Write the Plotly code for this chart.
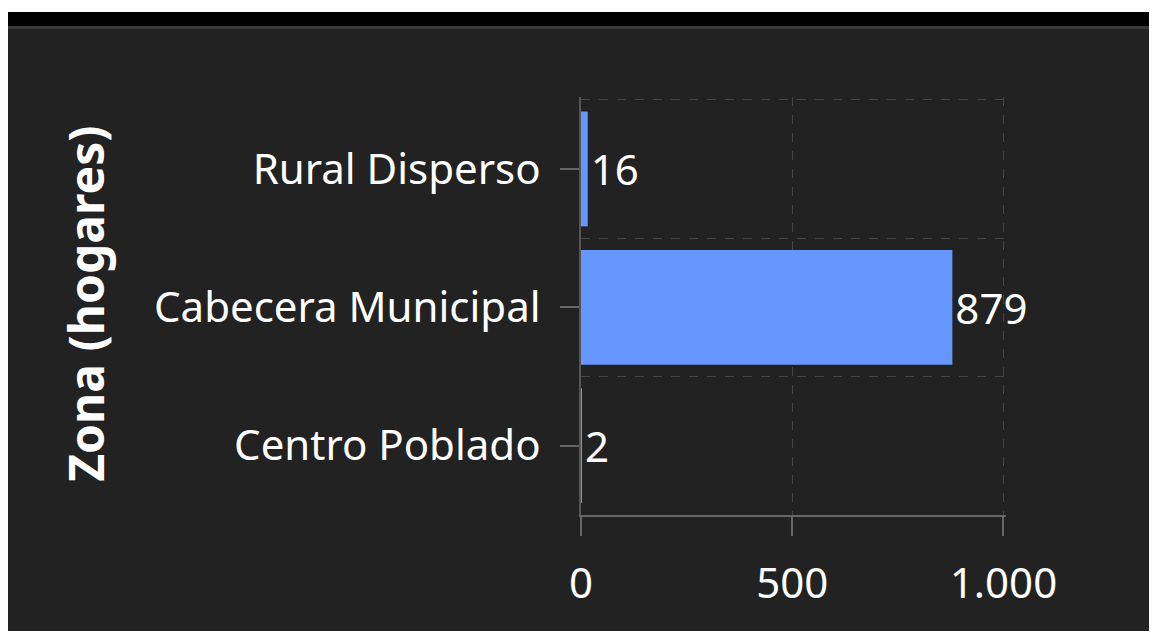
import plotly.graph_objects as go

zonas = ["Centro Poblado", "Cabecera Municipal", "Rural Disperso"]
hogares = [2, 879, 16]
x_ticks = [0, 500, 1000]

pos = list(range(len(zonas)))

BG = "#222222"
GRID = "#444444"
AXIS = "#666666"
BAR = "#6696FF"
FONT = "Noto Sans"

fig = go.Figure(
    go.Bar(
        x=hogares,
        y=pos,
        orientation="h",
        marker=dict(color=BAR, line=dict(width=0)),
        text=hogares,
        textposition="outside",
        textfont=dict(color="white", size=42, family=FONT),
        cliponaxis=False,
    )
)

fig.update_layout(
    width=1149,
    height=623,
    margin=dict(l=573, r=151, t=89, b=116),
    paper_bgcolor=BG,
    plot_bgcolor=BG,
    font=dict(family=FONT, color="white", size=42),
    bargap=0.17,
    showlegend=False,
    separators=",.",
)

fig.update_xaxes(
    range=[0, 1006],
    tickvals=x_ticks,
    tickformat=",d",
    showgrid=True,
    gridcolor=GRID,
    griddash="dash",
    zeroline=False,
    showline=True,
    linecolor=AXIS,
    linewidth=2,
    ticks="outside",
    ticklen=19,
    tickcolor=AXIS,
    tickwidth=2,
    ticklabelstandoff=12,
    tickfont=dict(size=42, color="white"),
    layer="below traces",
)

fig.update_yaxes(
    range=[-0.5, 2.52],
    tickvals=pos,
    ticktext=zonas,
    showgrid=False,
    zeroline=False,
    showline=True,
    linecolor="#555555",
    linewidth=2,
    ticks="outside",
    ticklen=19,
    tickcolor=AXIS,
    tickwidth=2,
    ticklabelstandoff=11,
    tickfont=dict(size=42, color="white"),
    minor=dict(tickvals=[-0.5, 0.5, 1.5, 2.5], showgrid=True, gridcolor=GRID, griddash="dash", ticks=""),
    layer="below traces",
)

# y-axis title
fig.add_annotation(
    text="<b>Zona (hogares)</b>", textangle=-90,
    xref="paper", yref="paper", x=-1.165, y=0.505,
    xanchor="center", yanchor="middle", showarrow=False,
    font=dict(size=48, color="white", family=FONT),
)

# page header band above the chart
fig.add_shape(type="rect", xref="paper", yref="paper", x0=-1.5, x1=1.5, y0=1.2033, y1=1.25,
              fillcolor="white", line=dict(width=0), layer="below")
fig.add_shape(type="rect", xref="paper", yref="paper", x0=-1.5, x1=1.5, y0=1.1699, y1=1.2033,
              fillcolor="black", line=dict(width=0), layer="below")
fig.add_shape(type="rect", xref="paper", yref="paper", x0=-1.5, x1=1.5, y0=1.1627, y1=1.1699,
              fillcolor="#3a3a3a", line=dict(width=0), layer="below")

fig.write_html("out.html")
